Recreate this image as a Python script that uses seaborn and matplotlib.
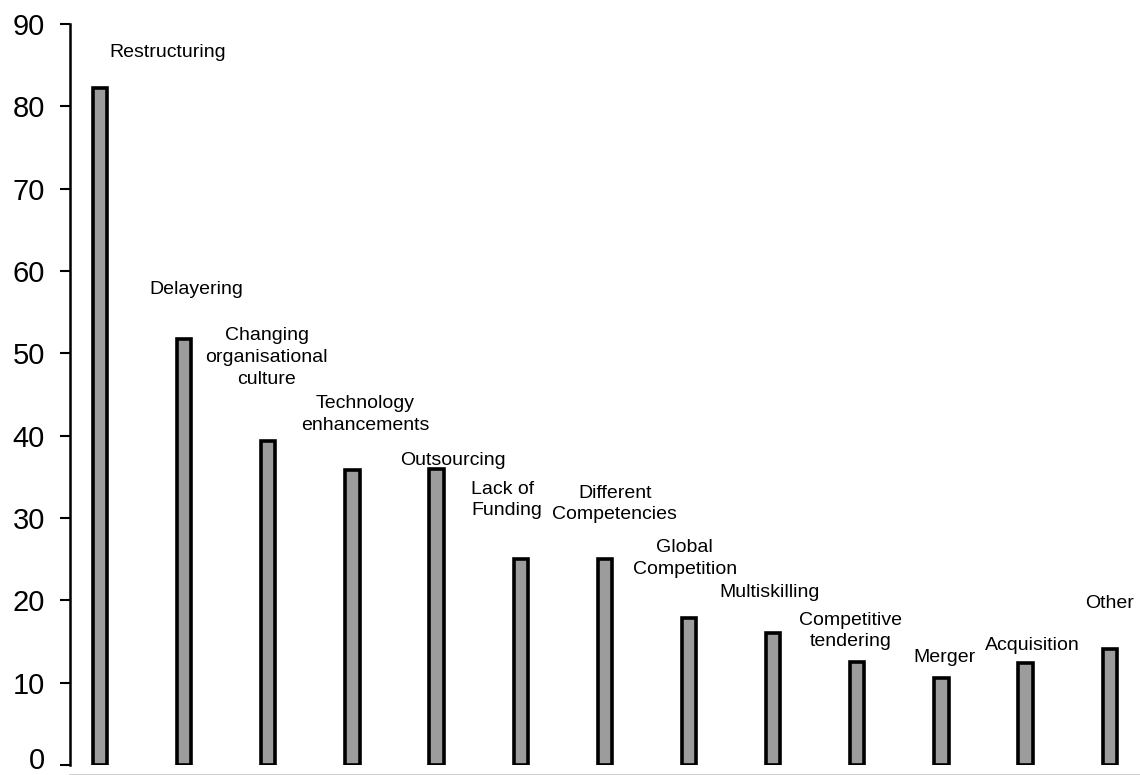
import matplotlib
matplotlib.use("Agg")
import matplotlib.pyplot as plt
import matplotlib.transforms as mtransforms
import seaborn as sns
import pandas as pd

# Reasons given, with the share of respondents (%)
reasons = [
    "Restructuring", "Delayering", "Changing\norganisational\nculture",
    "Technology\nenhancements", "Outsourcing", "Lack of\nFunding",
    "Different\nCompetencies", "Global\nCompetition", "Multiskilling",
    "Competitive\ntendering", "Merger", "Acquisition", "Other",
]
percent = [82.2, 51.7, 39.3, 35.8, 35.9, 25.0, 25.0, 17.9, 16.0, 12.5, 10.6, 12.4, 14.1]

# Where each label sits: x offset from its bar, y in data units, alignment
label_dx = [0.81, 0.15, -0.02, 0.15, 0.19, -0.59, 0.12, -0.05, -0.04, -0.08, 0.04, 0.08, 0.0]
label_y = [86.5, 57.7, 49.5, 42.6, 37.0, 32.2, 31.7, 25.1, 21.0, 16.3, 13.0, 14.5, 19.6]
label_ha = ["center", "center", "center", "center", "center", "left",
            "center", "center", "center", "center", "center", "center", "center"]

df = pd.DataFrame({"reason": reasons, "percent": percent})

sns.set_style("white")
plt.rcParams["font.family"] = ["Liberation Sans", "DejaVu Sans"]

fig = plt.figure(figsize=(11.4, 7.75), dpi=100)
ax = fig.add_axes([0.0614, 0.0129, 0.9386, 0.9561])

sns.barplot(data=df, x="reason", y="percent", order=reasons, width=0.17,
            color="#9c9c9c", edgecolor="black", linewidth=2.6,
            saturation=1, ax=ax)

for i, (txt, dx, y, ha) in enumerate(zip(reasons, label_dx, label_y, label_ha)):
    ax.text(i + dx, y, txt, ha=ha, va="center", fontsize=14,
            linespacing=1.35, color="black")

ax.set_xlim(-0.356, 12.36)
ax.set_ylim(0, 90)
ax.set_yticks(range(0, 91, 10))
ax.set_xticks([])
ax.set_xlabel("")
ax.set_ylabel("")
ax.tick_params(axis="y", labelsize=21, length=7, width=1.5, direction="out",
               left=True, pad=11, colors="black", labelcolor="black")
for side in ("top", "right"):
    ax.spines[side].set_visible(False)
ax.spines["left"].set_linewidth(1.8)
ax.spines["left"].set_color("black")
ax.spines["bottom"].set_color("#c8c8c8")
ax.spines["bottom"].set_linewidth(1.2)
ax.spines["bottom"].set_position(("outward", 7))

# keep the "0" label inside the canvas by lifting it a touch
zero_label = ax.get_yticklabels()[0]
zero_label.set_transform(zero_label.get_transform()
                         + mtransforms.ScaledTranslation(0, 5 / 72, fig.dpi_scale_trans))

fig.savefig("out.png", dpi=100)
